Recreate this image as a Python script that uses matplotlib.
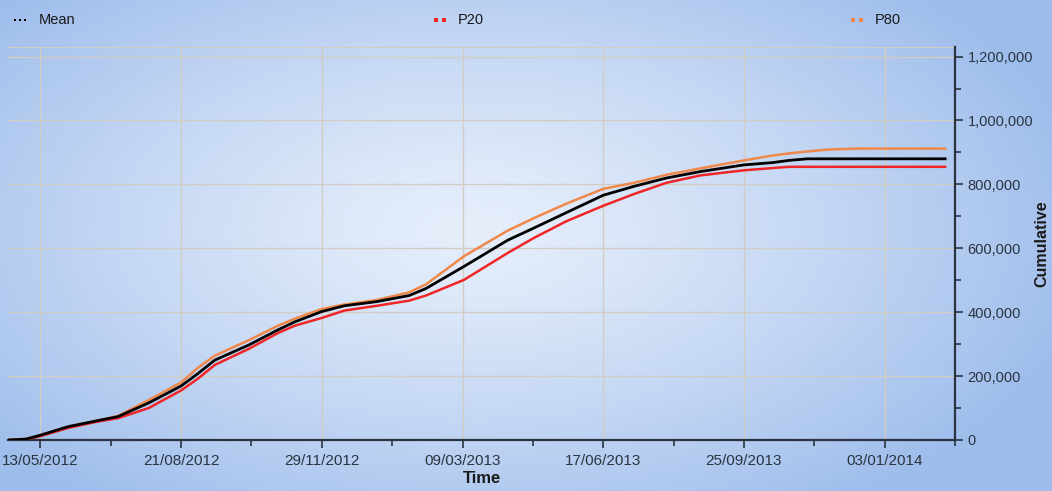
import numpy as np
import pandas as pd
import matplotlib
matplotlib.use("Agg")
from matplotlib import pyplot as plt
from matplotlib import dates as mdates
from matplotlib.lines import Line2D
from matplotlib.ticker import FuncFormatter, MultipleLocator

plt.rcParams['font.family'] = ['Liberation Sans', 'DejaVu Sans']

# sample dates along the curves
dates = ['2012-04-21', '2012-05-03', '2012-05-13', '2012-06-02', '2012-06-22',
         '2012-07-07', '2012-07-29', '2012-08-21', '2012-09-02', '2012-09-14',
         '2012-10-08', '2012-10-29', '2012-11-10', '2012-11-29', '2012-12-15',
         '2013-01-07', '2013-01-30', '2013-02-11', '2013-03-10', '2013-04-10',
         '2013-04-29', '2013-05-22', '2013-06-17', '2013-07-09', '2013-08-01',
         '2013-08-25', '2013-09-25', '2013-10-15', '2013-10-27', '2013-11-09',
         '2013-11-24', '2013-12-14', '2014-02-15']

mean = [0, 3000, 15000, 42000, 60000, 73000, 116000, 169000, 208000, 250000,
        297000, 345000, 370000, 402000, 420000, 433000, 452000, 474000, 543000,
        625000, 664000, 712000, 766000, 794000, 820000, 840000, 861000, 868000,
        875000, 880000, 880000, 880000, 880000]

p20 = [0, 2000, 12000, 38000, 57000, 68000, 100000, 155000, 192000, 235000,
       285000, 335000, 358000, 382000, 405000, 420000, 436000, 452000, 501000,
       585000, 633000, 685000, 733000, 770000, 805000, 828000, 844000, 851000,
       855000, 855000, 855000, 855000, 855000]

p80 = [0, 3000, 15000, 42000, 60000, 75000, 125000, 180000, 226000, 264000,
       312000, 358000, 380000, 410000, 424000, 438000, 462000, 487000, 575000,
       655000, 695000, 740000, 786000, 805000, 830000, 850000, 875000, 890000,
       897000, 903000, 909000, 912000, 912000]

x_start = '2012-04-20'
x_end = '2014-02-15'
tick_start = '2012-05-13'
tick_step_days = 100


def radial_background(w, h):
    yy, xx = np.mgrid[0:h, 0:w]
    r = np.sqrt(((xx - 470) / 620.0) ** 2 + ((yy - 230) / 330.0) ** 2)
    r = np.clip(r, 0, 1) ** 1.3
    inner = np.array([230, 238, 251]) / 255.0
    outer = np.array([160, 190, 236]) / 255.0
    return inner + (outer - inner) * r[..., None]


def create_chart():
    fig = plt.figure(figsize=(10.52, 4.91), dpi=100)

    bg = fig.add_axes([0, 0, 1, 1], zorder=-10)
    bg.imshow(radial_background(1052, 491), aspect='auto', extent=(0, 1, 0, 1))
    bg.axis('off')

    ax = fig.add_axes([0.0076, 0.1039, 0.9002, 0.8004])
    ax.set_facecolor('none')

    x = pd.to_datetime(dates)
    ax.plot(x, p80, color='#f0884a', lw=1.8, zorder=3)
    ax.plot(x, p20, color='#f02626', lw=1.8, zorder=3)
    ax.plot(x, mean, color='black', lw=2.0, zorder=4)

    ax.set_xlim(pd.Timestamp(x_start), pd.Timestamp(x_end))
    ax.set_ylim(0, 1230000)

    t0 = pd.Timestamp(tick_start)
    majors = [t0 + pd.Timedelta(days=tick_step_days * k) for k in range(7)]
    minors = [t0 + pd.Timedelta(days=tick_step_days * k + 50) for k in range(7)]
    ax.set_xticks(majors)
    ax.set_xticks(minors, minor=True)
    ax.xaxis.set_major_formatter(mdates.DateFormatter('%d/%m/%Y'))

    ax.yaxis.tick_right()
    ax.yaxis.set_label_position('right')
    ax.yaxis.set_major_locator(MultipleLocator(200000))
    ax.yaxis.set_minor_locator(MultipleLocator(100000))
    ax.yaxis.set_major_formatter(FuncFormatter(lambda v, p: f'{int(v):,}'))

    tick_col = '#2a3440'
    ax.tick_params(which='both', colors=tick_col, width=1.2)
    ax.tick_params(axis='x', labelsize=11, pad=4)
    ax.tick_params(axis='y', labelsize=10.5, pad=3)
    ax.tick_params(which='major', length=6)
    ax.tick_params(which='minor', length=4)

    for side in ('top', 'left'):
        ax.spines[side].set_visible(False)
    for side in ('right', 'bottom'):
        ax.spines[side].set_color('#2a3440')
        ax.spines[side].set_linewidth(1.6)

    ax.grid(True, which='major', color='#d2cdc2', lw=1.0, zorder=0)
    ax.axhline(1230000, color='#d2cdc2', lw=1.0, zorder=0)

    ax.set_xlabel('Time', fontsize=12, fontweight='bold', color='#1a1a1a',
                  labelpad=2)
    ax.set_ylabel('Cumulative', fontsize=11.5, fontweight='bold',
                  color='#1a1a1a', labelpad=1)

    # legend row along the top
    entries = [('Mean', 'black', 0.014, 3, 2.0, 5.0),
               ('P20', '#f02626', 0.414, 2, 3.4, 8.0),
               ('P80', '#f0884a', 0.811, 2, 3.4, 8.0)]
    y_leg = 1 - 20 / 491.0
    for label, col, x0, n, size, gap in entries:
        xs = [x0 + i * gap / 1052.0 for i in range(n)]
        fig.add_artist(Line2D(xs, [y_leg] * n, transform=fig.transFigure,
                              ls='none', marker='s', ms=size, color=col,
                              mec=col, mew=0))
        fig.text(xs[-1] + 14 / 1052.0, y_leg, label, fontsize=10.5,
                 color='#1a1a1a', va='center', ha='left')

    fig.savefig('out.png', dpi=100)


if __name__ == '__main__':
    create_chart()
